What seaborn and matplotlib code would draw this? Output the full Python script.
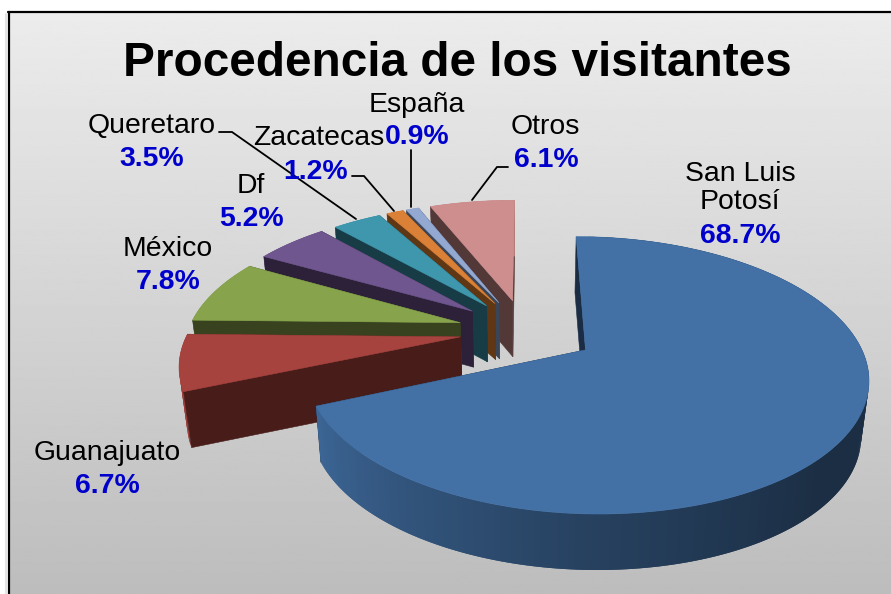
import numpy as np
import matplotlib
matplotlib.use("Agg")
import matplotlib.pyplot as plt
import seaborn as sns

# values, clockwise from the top
labels = ["San Luis\nPotosí", "Guanajuato", "México", "Df", "Queretaro", "Zacatecas", "España", "Otros"]
values = [68.7, 6.7, 7.8, 5.2, 3.5, 1.2, 0.9, 6.1]

top_colors = ["#4371A6", "#A6433F", "#87A44D", "#6F568E", "#3F97AE", "#DA8137", "#93A9D1", "#CE8E8E"]
wall_colors = ["#1A2D45", "#481C19", "#38421E", "#2C2139", "#183C46", "#5F3714", "#3B4558", "#533838"]

# how far each slice is pulled out, and its radius
explode = [0.26, 0.24, 0.25, 0.255, 0.25, 0.25, 0.25, 0.25]
radius = [0.99, 1, 1, 1, 1, 1, 1, 1]

# label centres in pixels: name line(s) and percent line
name_pos = [(740, 188), (107, 453), (168, 249), (251, 186), (152, 126), (319, 138), (417, 105), (545, 127)]
pct_pos = [(740, 236), (107, 486), (168, 282), (251, 219), (152, 159), (316, 172), (417, 137), (546, 160)]

leaders = [
    ([219, 232, 356], [132, 132, 219]),
    ([352, 364, 394], [176, 176, 211]),
    ([411, 411], [150, 207]),
    ([508, 497, 472], [167, 167, 200]),
]

CX, CY = 525, 331
RX, RY = 272, 128.5
PERSP = 0.18
DEPTH = 56
SHRINK = 0.977

sns.set_theme(style="white")
plt.rcParams["font.family"] = "Liberation Sans"


def project(u, v, lower=False):
    w = 1 + PERSP * v
    x = CX + RX * u / w
    y = CY - RY * v / w
    if lower:
        x = CX + (x - CX) * SHRINK
        y = y + DEPTH
    return x, y


def draw_wall(ax, ou, ov, ue, ve, wall):
    uu = np.array([ou, ue])
    vv = np.array([ov, ve])
    x1, y1 = project(uu, vv)
    x2, y2 = project(uu, vv, lower=True)
    ax.fill(np.r_[x1, x2[::-1]], np.r_[y1, y2[::-1]], color=wall, lw=0.4, zorder=2)


def draw_slice(ax, t1, t2, top, wall, pull, r):
    mid = np.radians((t1 + t2) / 2)
    ou, ov = pull * np.sin(mid), pull * np.cos(mid)
    th = np.radians(np.arange(t1, t2 + 0.5, 1.0))
    th[-1] = np.radians(t2)
    u = ou + r * np.sin(th)
    v = ov + r * np.cos(th)

    # back cut faces first
    draw_wall(ax, ou, ov, u[-1], v[-1], wall)
    if t1 == 0:
        draw_wall(ax, ou, ov, u[0], v[0], wall)

    # outer rim, shaded by angle. quads overlap so no seams show
    x1, y1 = project(u, v)
    x2, y2 = project(u, v, lower=True)
    base = np.array(matplotlib.colors.to_rgb(top))
    start = 3 if t1 == 0 else 0  # the part behind the top face stays hidden
    for i in range(start, len(th) - 1):
        j = min(i + 2, len(th) - 1)
        ang = np.degrees(th[i]) % 360
        f = np.interp(ang, [135, 180, 250], [0.41, 0.57, 0.92])
        ax.fill([x1[i], x1[j], x2[j], x2[i]], [y1[i], y1[j], y2[j], y2[i]],
                color=tuple(base * f), lw=0, zorder=2)

    # front cut face, then the top
    if t1 > 0:
        draw_wall(ax, ou, ov, u[0], v[0], wall)
    x, y = project(np.r_[ou, u], np.r_[ov, v])
    ax.fill(x, y, color=top, lw=0.4, zorder=2)


fig = plt.figure(figsize=(8.91, 5.94), dpi=100, facecolor="white")
ax = fig.add_axes([0, 0, 1, 1])

grad = np.linspace(0.925, 0.74, 256).reshape(-1, 1)
ax.imshow(grad, cmap="gray", vmin=0, vmax=1, extent=(8, 891, 594, 12), aspect="auto", zorder=0)
ax.plot([8.5, 8.5], [594, 12], color="black", lw=1.6, zorder=1)
ax.plot([8, 891], [12, 12], color="black", lw=1.6, zorder=1)
ax.plot([6, 6], [14, 594], color="#e4e4e4", lw=1.5, zorder=0.5)

edges = np.r_[0, np.cumsum(values)] / sum(values) * 360
for i in range(len(values) - 1, -1, -1):
    draw_slice(ax, edges[i], edges[i + 1], top_colors[i], wall_colors[i], explode[i], radius[i])

for xs, ys in leaders:
    ax.plot(xs, ys, color="black", lw=1.3, zorder=3, solid_joinstyle="miter")

ax.text(457, 63, "Procedencia de los visitantes", fontsize=34.4, fontweight="bold",
        color="black", ha="center", va="center", zorder=4)

for name, val, np_, pp in zip(labels, values, name_pos, pct_pos):
    ax.text(np_[0], np_[1], name, fontsize=20.4, color="black", ha="center", va="center",
            linespacing=1.1, zorder=4)
    ax.text(pp[0], pp[1], f"{val:.1f}%", fontsize=20.4, fontweight="bold", color="#0000CC",
            ha="center", va="center", zorder=4)

ax.set_xlim(0, 891)
ax.set_ylim(594, 0)
ax.axis("off")

fig.savefig("out.png", dpi=100, facecolor="white")
